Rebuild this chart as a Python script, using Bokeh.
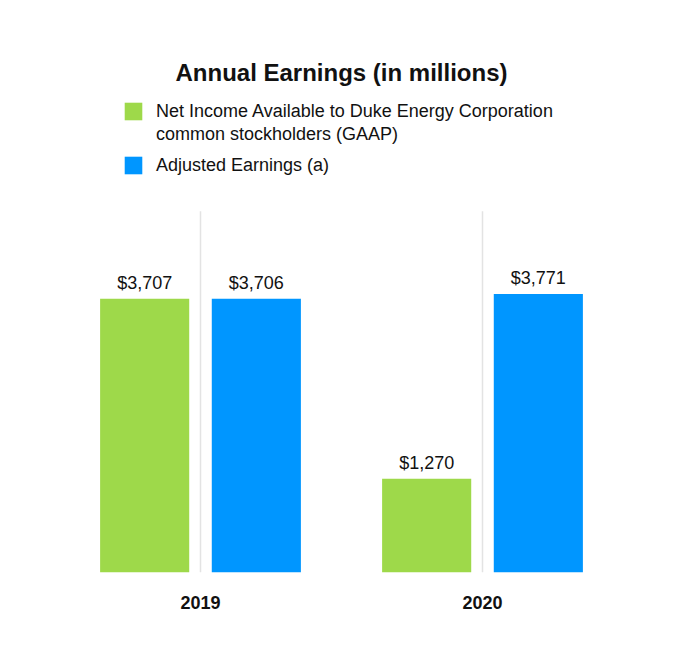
from bokeh.plotting import figure
from bokeh.models import (ColumnDataSource, FixedTicker, Legend, LegendItem, Label)
from bokeh.transform import dodge
from bokeh.core.properties import value
from bokeh.embed import file_html
from bokeh.resources import INLINE

years = ["2019", "2020"]
gaap = [3707, 1270]
adjusted = [3706, 3771]
gaap_name_lines = ["Net Income Available to Duke Energy Corporation",
                   "common stockholders (GAAP)"]
adjusted_name = "Adjusted Earnings (a)"
colors = ["#9ed94a", "#0096ff"]
title_text = "Annual Earnings (in millions)"

# layout (pixels)
W, H = 680, 666
FRAME_L, FRAME_R, FRAME_B = 59, 57, 94
FRAME_H = H - FRAME_B            # frame starts at canvas top
PLOT_AREA_PX = 362               # height of the bar area
VALUE_TOP = 4900                 # value at top of bar area
y_end = VALUE_TOP * FRAME_H / PLOT_AREA_PX
grid_top = 4890

xs = list(range(len(years)))
src = ColumnDataSource(dict(
    x=xs,
    gaap=gaap,
    adj=adjusted,
    gaap_lbl=[f"${v:,}" for v in gaap],
    adj_lbl=[f"${v:,}" for v in adjusted],
    g0=[0] * len(xs),
    g1=[grid_top] * len(xs),
))

FONT = "Liberation Sans"
INK = "#111111"

p = figure(width=W, height=H, output_backend="svg", toolbar_location=None,
           x_range=(-0.5, 1.5), y_range=(0, y_end), title=None,
           min_border_left=FRAME_L, min_border_right=FRAME_R,
           min_border_bottom=FRAME_B, min_border_top=0,
           outline_line_color=None, tools="")

# category separator lines (light gray, only over the bar area)
p.segment(x0="x", x1="x", y0="g0", y1="g1", source=src,
          line_color="#e3e3e3", line_width=1.5)

off = 0.198
bw = 0.316
r1 = p.vbar(x=dodge("x", -off), top="gaap", width=bw, source=src,
            fill_color=colors[0], line_color=None)
r2 = p.vbar(x=dodge("x", off), top="adj", width=bw, source=src,
            fill_color=colors[1], line_color=None)
r_blank = p.vbar(x=dodge("x", -off), top="gaap", width=bw, source=src,
                 fill_alpha=0, line_alpha=0)

for key, o in (("gaap", -off), ("adj", off)):
    p.text(x=dodge("x", o), y=key, text=key + "_lbl", source=src,
           text_align="center", text_baseline="bottom", y_offset=-6,
           text_font=value(FONT), text_font_size="18px", text_color=INK)

p.yaxis.visible = False
p.grid.visible = False
p.xaxis.ticker = FixedTicker(ticks=xs)
p.xaxis.major_label_overrides = {i: y for i, y in zip(xs, years)}
p.xaxis.axis_line_color = None
p.xaxis.major_tick_line_color = None
p.xaxis.minor_tick_line_color = None
p.xaxis.major_label_standoff = 17
p.xaxis.major_label_text_font = FONT
p.xaxis.major_label_text_font_style = "bold"
p.xaxis.major_label_text_font_size = "18px"
p.xaxis.major_label_text_color = INK

title = Label(x=sum(xs) / len(xs), y=FRAME_H - 72, y_units="screen",
              text=title_text, text_align="center", text_baseline="middle",
              text_font=FONT, text_font_size="24px", text_font_style="bold",
              text_color=INK)
p.add_layout(title)

GW = 22   # legend glyph area (drawn square is 80% of it)
common = dict(orientation="vertical", label_text_font=FONT,
              label_text_font_size="18px", label_text_color=INK,
              glyph_width=GW, glyph_height=GW, label_standoff=12,
              padding=0, margin=0, border_line_color=None,
              background_fill_alpha=0, spacing=1)

lx = round(124 - 0.1 * GW - FRAME_L)
legA = Legend(items=[LegendItem(label=gaap_name_lines[0], renderers=[r1]),
                     LegendItem(label=gaap_name_lines[1], renderers=[r_blank])],
              location=(lx, round(FRAME_H - (111 - GW / 2 + 2 * GW + 1))), **common)
legB = Legend(items=[LegendItem(label=adjusted_name, renderers=[r2])],
              location=(lx, round(FRAME_H - (164.5 + GW / 2))), **common)
p.add_layout(legA)
p.add_layout(legB)

open("out.html", "w").write(file_html(p, INLINE))
